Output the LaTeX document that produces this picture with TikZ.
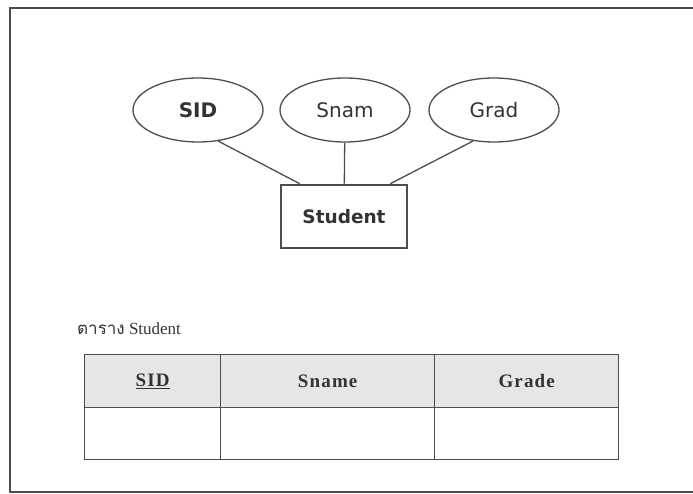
\documentclass[tikz,border=0pt]{standalone}
\usepackage{fontspec}
\setmainfont{Liberation Serif}
\newfontfamily\erfont{DejaVu Sans}
\newfontfamily\thaifont[Script=Thai]{Loma}
\newfontfamily\headfont[LetterSpace=6]{Liberation Serif}
\usetikzlibrary{shapes.geometric, positioning}

\definecolor{linegray}{HTML}{4D4D4D}
\definecolor{textgray}{HTML}{333333}
\definecolor{headgray}{HTML}{E6E6E6}

\begin{document}
\begin{tikzpicture}[
      x=1pt, y=-1pt,
      attr/.style={ellipse, draw=linegray, line width=1.3pt, minimum width=130pt, minimum height=64pt, inner sep=0pt, text=textgray, font=\erfont\fontsize{20}{24}\selectfont},
      entity/.style={rectangle, draw=linegray, line width=2.6pt, minimum width=126pt, minimum height=63pt, inner sep=0pt, text=textgray, font=\erfont\bfseries\fontsize{18.5}{22}\selectfont},
      link/.style={draw=linegray, line width=1.3pt},
      cell/.style={rectangle, draw=linegray, line width=1.4pt, anchor=north west, inner sep=0pt, minimum height=53pt, text=textgray, font=\headfont\bfseries\fontsize{19}{23}\selectfont},
      head/.style={cell, fill=headgray}
    ]
      \useasboundingbox (0,0) rectangle (693,494);
      % outer frame, open at the right
      \draw [linegray, line width=1.6pt] (693,8) -- (10,8) -- (10,492) -- (693,492);

      % ER diagram
      \node (sid) [attr] at (198,110) {\bfseries SID};
      \node (snam) [attr] at (345,110) {Snam};
      \node (grad) [attr] at (494,110) {Grad};
      \node (student) [entity] at (344,216.5) {Student};

      \draw [link] (sid.-57) -- ([xshift=20pt]student.north west);
      \draw [link] (snam) -- (student);
      \draw [link] (grad.-124) -- ([xshift=-18pt]student.north east);

      % table
      \node (caption) [anchor=south west, inner sep=0pt, text=textgray, font=\fontsize{17}{20}\selectfont] at (77,335) {{\thaifont ตาราง} Student};
      \node (hsid) [head, minimum width=136pt] at (84,354) {\underline{SID}};
      \node (hsname) [head, minimum width=214pt] at (220,354) {Sname};
      \node (hgrade) [head, minimum width=184pt] at (434,354) {Grade};
      \node (rsid) [cell, minimum width=136pt, minimum height=52pt] at (84,407) {};
      \node (rsname) [cell, minimum width=214pt, minimum height=52pt] at (220,407) {};
      \node (rgrade) [cell, minimum width=184pt, minimum height=52pt] at (434,407) {};
    \end{tikzpicture}
\end{document}
